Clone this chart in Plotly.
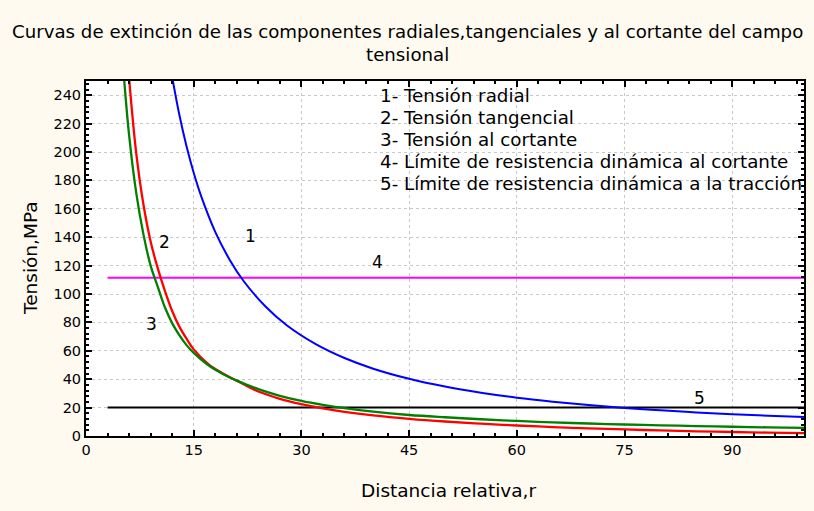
import plotly.graph_objects as go

# Curve 1 - radial stress (blue)
x_radial = [12, 13, 14, 15, 16, 18, 20, 22, 25, 28, 32, 36, 40, 45, 50, 55, 60, 65, 70, 75, 80, 85, 90, 95, 100]
y_radial = [252.8, 226.2, 204.1, 185.4, 169.5, 143.8, 124.2, 108.8, 91.2, 77.8, 64.7, 54.9, 47.4, 40.3,
            34.8, 30.5, 27.0, 24.2, 21.8, 19.8, 18.1, 16.6, 15.4, 14.3, 13.3]

# Curve 2 - tangential stress (red)
x_tang = [6, 7, 8, 9, 10, 11, 12, 13, 14, 15, 17, 19, 21, 24, 27, 30, 33, 36, 40, 45, 50, 55, 60, 65, 70,
          75, 80, 85, 90, 95, 100]
y_tang = [252, 199, 163, 137, 118, 102, 88, 77, 68.5, 61, 50.8, 44.2, 39.0, 31.3, 26.2, 22.4, 19.4, 17.0,
          14.5, 12.1, 10.2, 8.7, 7.4, 6.3, 5.4, 4.6, 3.9, 3.3, 2.8, 2.4, 2.0]

# Curve 3 - shear stress (green)
x_shear = [5.3, 6, 7, 8, 9, 10, 11, 12, 13, 14, 15, 17, 19, 21, 24, 27, 30, 33, 36, 40, 45, 50, 55, 60, 65,
           70, 75, 80, 85, 90, 95, 100]
y_shear = [252, 212, 171, 142, 120, 105, 90.5, 79.5, 71, 64, 58.5, 50.0, 43.8, 39.0, 33.0, 28.3, 24.7, 21.9,
           19.6, 17.1, 14.8, 13.2, 11.8, 10.6, 9.6, 8.8, 8.1, 7.5, 7.0, 6.5, 6.1, 5.7]

# Limits
x_limits = [3, 100]
shear_limit = 111.5
tension_limit = 20

legend_lines = [
    "1- Tensión radial",
    "2- Tensión tangencial",
    "3- Tensión al cortante",
    "4- Límite de resistencia dinámica al cortante",
    "5- Límite de resistencia dinámica a la tracción",
]
legend_y = [239.5, 224, 208.5, 193, 177.5]
legend_x = 40.6

curve_labels = ["1", "2", "3", "4", "5"]
curve_label_x = [22.9, 11.0, 9.1, 40.6, 85.5]
curve_label_y = [141, 136.3, 79, 122.7, 27]

title_lines = ["Curvas de extinción de las componentes radiales,tangenciales y al cortante del campo",
               "tensional"]
x_title = "Distancia relativa,r"
y_title = "Tensión,MPa"

FONT = "DejaVu Sans"
BG = "#FEFAF0"
L, R, T, B = 86, 10, 81, 75
W, H = 814, 511
PW, PH = W - L - R, H - T - B


def py(p):  # pixel row -> paper y
    return (H - B - p) / PH


def px(p):  # pixel column -> paper x
    return (p - L) / PW


fig = go.Figure()
fig.add_trace(go.Scatter(x=x_limits, y=[shear_limit, shear_limit], mode="lines",
                         line=dict(color="#FF00FF", width=2), showlegend=False))
fig.add_trace(go.Scatter(x=x_limits, y=[tension_limit, tension_limit], mode="lines",
                         line=dict(color="black", width=2), showlegend=False))
fig.add_trace(go.Scatter(x=x_radial, y=y_radial, mode="lines", line_shape="spline",
                         line=dict(color="#0000FF", width=2), showlegend=False))
fig.add_trace(go.Scatter(x=x_tang, y=y_tang, mode="lines", line_shape="spline",
                         line=dict(color="#FF0000", width=2.3), showlegend=False))
fig.add_trace(go.Scatter(x=x_shear, y=y_shear, mode="lines", line_shape="spline",
                         line=dict(color="#008000", width=2.3), showlegend=False))

for t, yy in zip(legend_lines, legend_y):
    fig.add_annotation(x=legend_x, y=yy, text=t, showarrow=False, xanchor="left",
                       yanchor="middle", font=dict(family=FONT, size=18.3, color="black"))
for t, xx, yy in zip(curve_labels, curve_label_x, curve_label_y):
    fig.add_annotation(x=xx, y=yy, text=t, showarrow=False, xanchor="center",
                       yanchor="middle", font=dict(family=FONT, size=17, color="black"))

# Title and axis titles
fig.add_annotation(xref="paper", yref="paper", x=px(407), y=py(32), text=title_lines[0],
                   showarrow=False, xanchor="center", yanchor="middle",
                   font=dict(family=FONT, size=18.2, color="black"))
fig.add_annotation(xref="paper", yref="paper", x=px(407), y=py(54), text=title_lines[1],
                   showarrow=False, xanchor="center", yanchor="middle",
                   font=dict(family=FONT, size=18.2, color="black"))
fig.add_annotation(xref="paper", yref="paper", x=px(448), y=py(490), text=x_title,
                   showarrow=False, xanchor="center", yanchor="middle",
                   font=dict(family=FONT, size=18.5, color="black"))
fig.add_annotation(xref="paper", yref="paper", x=px(30), y=py(258), text=y_title, textangle=-90,
                   showarrow=False, xanchor="center", yanchor="middle",
                   font=dict(family=FONT, size=18.5, color="black"))

axis_common = dict(
    showline=True, linecolor="black", linewidth=2, mirror="ticks",
    ticks="inside", ticklen=6, tickwidth=1.5, tickcolor="black",
    showgrid=True, gridcolor="#C8C8C8", griddash="dot", gridwidth=1,
    zeroline=False, automargin=False,
    tickfont=dict(family=FONT, size=14.5, color="black"),
)

fig.update_xaxes(range=[0, 100], tickmode="linear", tick0=0, dtick=15,
                 minor=dict(ticks="inside", ticklen=3, dtick=3, tickcolor="black", showgrid=False),
                 **axis_common)
fig.update_yaxes(range=[0, 250], tickmode="linear", tick0=0, dtick=20,
                 minor=dict(ticks="inside", ticklen=3, dtick=4, tickcolor="black", showgrid=False),
                 **axis_common)

fig.update_layout(
    width=W, height=H,
    margin=dict(l=L, r=R, t=T, b=B, autoexpand=False),
    paper_bgcolor=BG, plot_bgcolor="white",
)

fig.write_html(
    "out.html",
    config={"displayModeBar": False},
    post_script="document.body.style.margin='0';document.body.style.background='" + BG + "';",
)
